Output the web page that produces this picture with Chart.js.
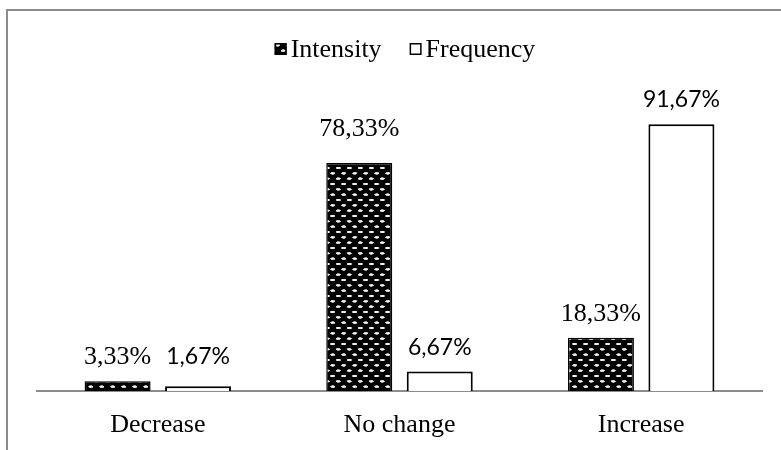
<!DOCTYPE html>
<html><head><meta charset="utf-8">
<script src="https://cdn.jsdelivr.net/npm/chart.js@4.4.1/dist/chart.umd.min.js"></script>
<style>html,body{margin:0;padding:0;background:#fff;} #wrap{position:relative;width:781px;height:450px;}</style>
</head><body><div id="wrap"><canvas id="c" width="781" height="450"></canvas></div>
<script>
// ---- data ----
const categories = ['Decrease', 'No change', 'Increase'];
const seriesNames = ['Intensity', 'Frequency'];
const intensityValues = [3.33, 78.33, 18.33];
const frequencyValues = [1.67, 6.67, 91.67];

// ---- styles ----
const SERIF = 'Liberation Serif, Times New Roman, serif';
const SANS = 'Lato, Carlito, Calibri, sans-serif';
const labelFonts = ['26px ' + SERIF, '23px ' + SANS];
const labelGap = 17;
// extra upward shift of individual value labels (style only), [series][category]
const labelLift = [[0, 10, 0], [5, 0, 0]];
const frameColor = '#8c8c8c';

function makePattern(ctx) {
  const s = 3, w = 11, h = 10.67;
  const c = document.createElement('canvas');
  c.width = Math.round(w * s); c.height = Math.round(h * s);
  const x = c.getContext('2d');
  x.fillStyle = '#000'; x.fillRect(0, 0, c.width, c.height);
  const dot = (cx, cy) => {
    x.fillStyle = '#b8b8b8';
    x.beginPath(); x.ellipse(cx * s, cy * s, 2.6 * s, 1.35 * s, 0, 0, Math.PI * 2); x.fill();
    x.fillStyle = '#f0f0f0';
    x.beginPath(); x.ellipse(cx * s, cy * s, 1.9 * s, 0.9 * s, 0, 0, Math.PI * 2); x.fill();
  };
  dot(2.75, 2.67); dot(8.25, 8.0);
  const p = ctx.createPattern(c, 'repeat');
  p.setTransform(new DOMMatrix().scale(1 / s));
  return p;
}

const canvas = document.getElementById('c');
const ctx0 = canvas.getContext('2d');
const weave = makePattern(ctx0);

const fmt = v => v.toFixed(2).replace('.', ',') + '%';

const framePlugin = {
  id: 'frame',
  beforeDraw(chart) {
    const ctx = chart.ctx;
    ctx.save();
    ctx.fillStyle = '#fff';
    ctx.fillRect(0, 0, chart.width, chart.height);
    ctx.strokeStyle = frameColor; ctx.lineWidth = 2;
    ctx.beginPath();
    ctx.moveTo(7, chart.height); ctx.lineTo(7, 10); ctx.lineTo(chart.width, 10);
    ctx.stroke();
    ctx.restore();
  }
};

const valueLabels = {
  id: 'valueLabels',
  afterDraw(chart) {
    const ctx = chart.ctx;
    chart.data.datasets.forEach((ds, di) => {
      const meta = chart.getDatasetMeta(di);
      meta.data.forEach((bar, i) => {
        ctx.save();
        ctx.font = labelFonts[di];
        ctx.fillStyle = '#000';
        ctx.textAlign = 'center';
        ctx.textBaseline = 'alphabetic';
        ctx.fillText(fmt(ds.data[i]), bar.x, bar.y - labelGap - labelLift[di][i]);
        ctx.restore();
      });
    });
  }
};

const customLegend = {
  id: 'customLegend',
  afterDraw(chart) {
    const ctx = chart.ctx;
    ctx.save();
    ctx.font = '26px ' + SERIF;
    const box = 12, gapBox = 4, gapItem = 28;
    const widths = chart.data.datasets.map(d => ctx.measureText(d.label).width);
    const total = widths.reduce((a, w) => a + box + gapBox + w, 0) + gapItem * (widths.length - 1);
    let x = 405 - total / 2;
    const baseline = 57;
    chart.data.datasets.forEach((d, i) => {
      ctx.fillStyle = d.backgroundColor;
      ctx.fillRect(x, baseline - 14, box, box);
      ctx.strokeStyle = '#000'; ctx.lineWidth = 1.5;
      ctx.strokeRect(x + 0.75, baseline - 14 + 0.75, box - 1.5, box - 1.5);
      x += box + gapBox;
      ctx.fillStyle = '#000';
      ctx.textBaseline = 'alphabetic';
      ctx.textAlign = 'left';
      ctx.fillText(d.label, x, baseline);
      x += widths[i] + gapItem;
    });
    ctx.restore();
  }
};

new Chart(canvas, {
  type: 'bar',
  data: {
    labels: categories,
    datasets: [
      { label: seriesNames[0], data: intensityValues, backgroundColor: weave, borderColor: '#000', borderWidth: 1.5, borderSkipped: 'start' },
      { label: seriesNames[1], data: frequencyValues, backgroundColor: '#fff', borderColor: '#000', borderWidth: 2, borderSkipped: 'start' }
    ]
  },
  options: {
    responsive: false,
    animation: false,
    devicePixelRatio: 1,
    categoryPercentage: 0.666,
    barPercentage: 0.82,
    layout: { padding: { left: 37, right: 19, top: 100, bottom: 0 } },
    plugins: { legend: { display: false }, tooltip: { enabled: false } },
    scales: {
      x: {
        z: 1,
        grid: { display: false, drawTicks: false },
        border: { display: true, color: frameColor, width: 2 },
        ticks: { color: '#000', font: { family: SERIF, size: 26 }, padding: 19 },
        afterFit(s) { s.height = 59; }
      },
      y: { display: false, min: 0, max: 100 }
    }
  },
  plugins: [framePlugin, valueLabels, customLegend]
});
</script>
</body></html>
